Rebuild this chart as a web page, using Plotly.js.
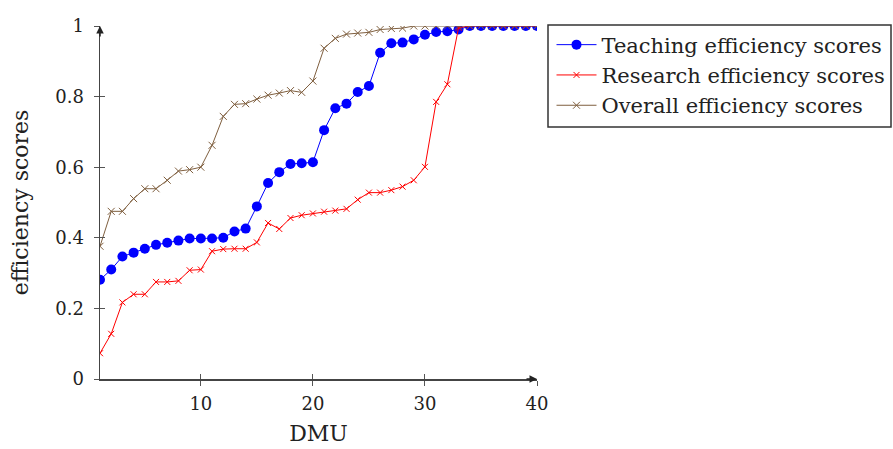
<!DOCTYPE html>
<html><head><meta charset="utf-8">
<script src="https://cdn.plot.ly/plotly-3.0.1.min.js"></script>
<style>body{margin:0;background:#fff}#c{width:893px;height:449px}</style>
</head><body><div id="c"></div>
<script>
const dmu = Array.from({length:40},(_,i)=>i+1);
const teaching = [0.281,0.31,0.347,0.358,0.369,0.38,0.386,0.392,0.398,0.398,0.398,0.40,0.418,0.426,0.489,0.555,0.586,0.609,0.611,0.614,0.705,0.767,0.78,0.813,0.83,0.924,0.951,0.953,0.962,0.975,0.983,0.985,0.99,1,1,1,1,1,1,1];
const research = [0.073,0.128,0.217,0.24,0.24,0.275,0.275,0.278,0.308,0.31,0.362,0.368,0.369,0.369,0.387,0.442,0.425,0.456,0.464,0.469,0.474,0.477,0.482,0.508,0.528,0.528,0.535,0.545,0.563,0.601,0.785,0.835,0.995,1,1,1,1,1,1,1];
const overall = [0.376,0.475,0.475,0.511,0.539,0.539,0.563,0.589,0.593,0.60,0.662,0.744,0.778,0.78,0.793,0.804,0.81,0.817,0.812,0.844,0.937,0.965,0.977,0.98,0.982,0.99,0.993,0.994,1,1,1,1,1,1,1,1,1,1,1,1];
const names = ['Teaching efficiency scores','Research efficiency scores','Overall efficiency scores'];
const xTicks = [10,20,30,40];
const yTicks = [0,0.2,0.4,0.6,0.8,1];
const yTickText = ['0','0.2','0.4','0.6','0.8','1'];
const font = "'DejaVu Serif','Liberation Serif',serif";
const traces = [
 {x:dmu,y:teaching,name:names[0],mode:'lines+markers',line:{color:'#0000ff',width:1},marker:{symbol:'circle',size:10,color:'#0000ff'}},
 {x:dmu,y:research,name:names[1],mode:'lines+markers',line:{color:'#ff0000',width:1},marker:{symbol:'x-thin',size:6,color:'#ff0000',line:{color:'#ff0000',width:1}}},
 {x:dmu,y:overall,name:names[2],mode:'lines+markers',line:{color:'#7f5f3f',width:1},marker:{symbol:'x-thin',size:7,color:'#7f5f3f',line:{color:'#7f5f3f',width:1}}},
 {x:[1,40],y:[0,0],xaxis:'x2',yaxis:'y2',mode:'lines',line:{width:0},showlegend:false,hoverinfo:'skip'}
];
const axcommon = {showgrid:false,zeroline:false,showline:true,linecolor:'#444',linewidth:1.5,ticks:'outside',ticklen:5,tickcolor:'#555',tickfont:{family:font,size:18,color:'#222'}};
// plot area in px: x 100..537, y 26..379
const px2x = p => (p-100)/437, px2y = p => (379-p)/353;
const layout = {
 width:893,height:449,margin:{l:100,r:356,t:26,b:70,autoexpand:false},
 paper_bgcolor:'#fff',plot_bgcolor:'#fff',
 xaxis:Object.assign({},axcommon,{range:[1,40],tickvals:xTicks,ticklabelstandoff:3,title:{text:'DMU',font:{family:font,size:22,color:'#222'},standoff:12}}),
 yaxis:Object.assign({},axcommon,{range:[0,1],tickvals:yTicks,ticktext:yTickText,ticklabelstandoff:6,title:{text:'efficiency scores',font:{family:font,size:22,color:'#222'},standoff:20}}),
 xaxis2:{overlaying:'x',range:[1,40],tickvals:xTicks,ticks:'inside',ticklen:5,tickcolor:'#555',showticklabels:false,showgrid:false,zeroline:false,showline:false,anchor:'y2'},
 yaxis2:{overlaying:'y',range:[0,1],tickvals:yTicks,ticks:'inside',ticklen:5,tickcolor:'#555',showticklabels:false,showgrid:false,zeroline:false,showline:false,anchor:'x2'},
 legend:{x:px2x(550),y:px2y(23),xanchor:'left',yanchor:'top',bordercolor:'rgba(0,0,0,0)',borderwidth:1.5,bgcolor:'rgba(0,0,0,0)',font:{family:font,size:21,color:'#222'},itemwidth:40,tracegroupgap:0},
 showlegend:true,
 shapes:[{type:'rect',xref:'paper',yref:'paper',x0:px2x(548),x1:px2x(891),y0:px2y(25),y1:px2y(127),line:{color:'#333',width:1.5},fillcolor:'rgba(0,0,0,0)',layer:'below'}],
 annotations:[
  {xref:'paper',yref:'paper',x:1,y:0,ax:-12,ay:0,showarrow:true,arrowhead:2,arrowsize:1,arrowwidth:1.5,arrowcolor:'#222',text:''},
  {xref:'paper',yref:'paper',x:0,y:1,ax:0,ay:12,showarrow:true,arrowhead:2,arrowsize:1,arrowwidth:1.5,arrowcolor:'#222',text:''}
 ]
};
Plotly.newPlot('c',traces,layout,{staticPlot:true});
</script></body></html>
